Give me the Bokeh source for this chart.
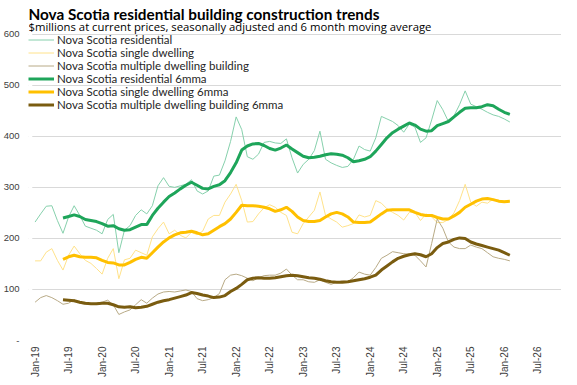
from bokeh.plotting import figure
from bokeh.models import Range1d, FixedTicker, Legend, LegendItem, Label, BoxAnnotation
from bokeh.embed import file_html
from bokeh.resources import INLINE

# ---- data (monthly, Jan-19 .. Feb-26) ----
tick_labels = ["Jan-19", "Jul-19", "Jan-20", "Jul-20", "Jan-21", "Jul-21", "Jan-22", "Jul-22",
               "Jan-23", "Jul-23", "Jan-24", "Jul-24", "Jan-25", "Jul-25", "Jan-26", "Jul-26"]

residential = [232, 248, 263, 264, 235, 210, 242, 264, 245, 224, 220, 216, 209, 237, 247, 172,
               216, 225, 245, 256, 248, 264, 303, 319, 302, 300, 303, 306, 315, 293, 287, 293,
               322, 324, 352, 390, 438, 413, 360, 355, 365, 388, 390, 387, 386, 395, 358, 328,
               345, 355, 372, 410, 355, 348, 343, 339, 341, 355, 381, 374, 371, 397, 439, 434,
               429, 421, 408, 424, 418, 388, 397, 432, 470, 452, 429, 440, 462, 489, 463, 458,
               453, 447, 442, 439, 434, 428]

single = [156, 156, 173, 180, 157, 138, 167, 185, 170, 157, 151, 141, 130, 161, 180, 121,
          158, 161, 177, 172, 167, 203, 219, 232, 209, 216, 206, 201, 212, 207, 214, 238,
          245, 245, 271, 287, 306, 274, 232, 233, 248, 260, 266, 261, 251, 245, 212, 209,
          229, 242, 255, 291, 245, 238, 232, 222, 225, 229, 246, 242, 245, 274, 269, 258,
          251, 245, 236, 251, 251, 235, 248, 242, 231, 231, 237, 250, 274, 306, 271, 263,
          271, 269, 277, 275, 273, 273]

multiple = [75, 84, 88, 84, 78, 71, 73, 80, 73, 71, 71, 73, 75, 79, 70, 51,
            56, 60, 70, 80, 73, 83, 91, 95, 96, 95, 97, 99, 96, 82, 78, 80,
            84, 92, 119, 128, 130, 127, 122, 117, 123, 127, 128, 128, 132, 140, 128, 119,
            119, 115, 114, 119, 114, 110, 114, 117, 115, 123, 134, 130, 128, 143, 161, 167,
            174, 172, 170, 169, 167, 156, 144, 190, 238, 220, 193, 183, 180, 180, 187, 183,
            180, 172, 164, 161, 159, 156]

# 6-month moving averages, starting Jun-19
residential_6mma = [240, 243, 246, 243, 237, 235, 233, 229, 224, 225, 219, 216, 217, 222, 227, 227,
                    245, 259, 271, 282, 289, 297, 304, 310, 304, 298, 297, 302, 305, 313, 329, 348,
                    373, 381, 385, 386, 382, 376, 373, 377, 383, 375, 368, 361, 358, 359, 361, 364,
                    366, 365, 363, 358, 350, 352, 355, 360, 371, 384, 397, 407, 414, 420, 426, 422,
                    414, 410, 411, 421, 425, 429, 438, 447, 455, 456, 456, 458, 462, 460, 453, 447,
                    443]

single_6mma = [159, 164, 167, 164, 163, 163, 162, 157, 153, 152, 148, 148, 153, 159, 163, 161,
               172, 183, 193, 201, 207, 211, 212, 214, 211, 207, 209, 216, 223, 229, 238, 251,
               265, 264, 264, 263, 261, 258, 253, 256, 261, 253, 242, 235, 233, 233, 235, 242,
               248, 251, 248, 242, 232, 231, 231, 232, 240, 248, 255, 256, 256, 256, 256, 251,
               247, 245, 245, 241, 238, 238, 244, 251, 261, 267, 273, 277, 278, 276, 273, 272,
               273]

multiple_6mma = [80, 79, 78, 75, 73, 72, 72, 73, 73, 70, 66, 65, 66, 64, 65, 67,
                 71, 75, 78, 80, 83, 86, 89, 94, 92, 89, 87, 84, 85, 88, 96, 102,
                 110, 119, 122, 123, 122, 122, 123, 125, 127, 128, 127, 125, 123, 122, 120, 117,
                 115, 114, 114, 115, 117, 119, 121, 124, 128, 138, 146, 154, 161, 165, 168, 170,
                 168, 164, 170, 182, 190, 193, 198, 201, 200, 193, 189, 186, 183, 180, 177, 172,
                 167]

n_categories = 96  # Jan-19 .. Dec-26 on the category axis
x_raw = list(range(len(residential)))
x_ma = list(range(5, 5 + len(residential_6mma)))

FONT = "Lato"
AXFONT = "Liberation Sans"
TXT = "#404040"

W, H = 561, 380
BORDER_L, BORDER_B = 25, 37
PX_PER_MONTH = 5.617
PAD = 3.8 / PX_PER_MONTH
X_START = -0.5 - PAD
X_END = X_START + (W - BORDER_L) / PX_PER_MONTH
PX_PER_UNIT = 309.0 / 600.0
Y_TOP = (H - BORDER_B) / PX_PER_UNIT   # frame reaches the top of the figure

p = figure(width=W, height=H, output_backend="svg", toolbar_location=None,
           x_range=Range1d(X_START, X_END), y_range=Range1d(0, Y_TOP),
           min_border_left=BORDER_L, min_border_right=0, min_border_top=0,
           min_border_bottom=BORDER_B)
p.outline_line_color = None
p.background_fill_color = "white"
p.border_fill_color = "white"

# axes
p.yaxis.ticker = FixedTicker(ticks=[0, 100, 200, 300, 400, 500, 600])
p.yaxis.major_label_overrides = {0: "-"}
p.xaxis.ticker = FixedTicker(ticks=list(range(0, n_categories, 6)))
p.xaxis.major_label_overrides = {i * 6: lab for i, lab in enumerate(tick_labels)}
p.xaxis.major_label_orientation = 1.5707963267948966
for ax in (p.xaxis[0], p.yaxis[0]):
    ax.axis_line_color = None
    ax.major_tick_line_color = None
    ax.minor_tick_line_color = None
    ax.major_tick_out = 0
    ax.major_tick_in = 0
    ax.major_label_text_font = AXFONT
    ax.major_label_text_color = TXT
p.yaxis.major_label_text_font_size = "9.5px"
p.xaxis.major_label_text_font_size = "10px"
p.yaxis.major_label_standoff = 9
p.xaxis.major_label_standoff = 6

p.xgrid.grid_line_color = None
p.ygrid.grid_line_color = "#d9d9d9"
p.ygrid.grid_line_width = 1

# gridlines begin at the category axis start, not at the frame edge
p.add_layout(BoxAnnotation(left=X_START, right=-0.5, bottom=-20, top=Y_TOP + 20,
                           fill_color="white", fill_alpha=1, line_alpha=0, level="underlay"))

# lines
r1 = p.line(x_raw, residential, line_color="#86d0ac", line_width=1)
r2 = p.line(x_raw, single, line_color="#ffe28a", line_width=1)
r3 = p.line(x_raw, multiple, line_color="#b8aa86", line_width=1)
r4 = p.line(x_ma, residential_6mma, line_color="#1ea55a", line_width=3)
r5 = p.line(x_ma, single_6mma, line_color="#ffc000", line_width=3)
r6 = p.line(x_ma, multiple_6mma, line_color="#7a5c10", line_width=3)

legend = Legend(items=[
    LegendItem(label="Nova Scotia residential", renderers=[r1]),
    LegendItem(label="Nova Scotia single dwelling", renderers=[r2]),
    LegendItem(label="Nova Scotia multiple dwelling building", renderers=[r3]),
    LegendItem(label="Nova Scotia residential 6mma", renderers=[r4]),
    LegendItem(label="Nova Scotia single dwelling 6mma", renderers=[r5]),
    LegendItem(label="Nova Scotia multiple dwelling building 6mma", renderers=[r6]),
], location=(0, 229))
legend.padding = 0
legend.margin = 0
legend.spacing = 0
legend.glyph_width = 26
legend.glyph_height = 13
legend.label_height = 13
legend.label_standoff = 3
legend.label_text_font = FONT
legend.label_text_font_size = "11.5px"
legend.label_text_color = "#262626"
legend.background_fill_alpha = 0
legend.border_line_alpha = 0
p.add_layout(legend)

# title and subtitle (screen units, relative to the plot frame's bottom-left)
p.add_layout(Label(x=0, y=326.3, x_units="screen", y_units="screen",
                   text="Nova Scotia residential building construction trends",
                   text_font=FONT, text_font_style="bold", text_font_size="15.3px",
                   text_color="#000000", text_baseline="alphabetic"))
p.add_layout(Label(x=0, y=313.7, x_units="screen", y_units="screen",
                   text="$millions at current prices, seasonally adjusted and 6 month moving average",
                   text_font="Open Sans", text_font_size="11.3px",
                   text_color="#000000", text_baseline="alphabetic"))

open("out.html", "w").write(file_html(p, INLINE))
